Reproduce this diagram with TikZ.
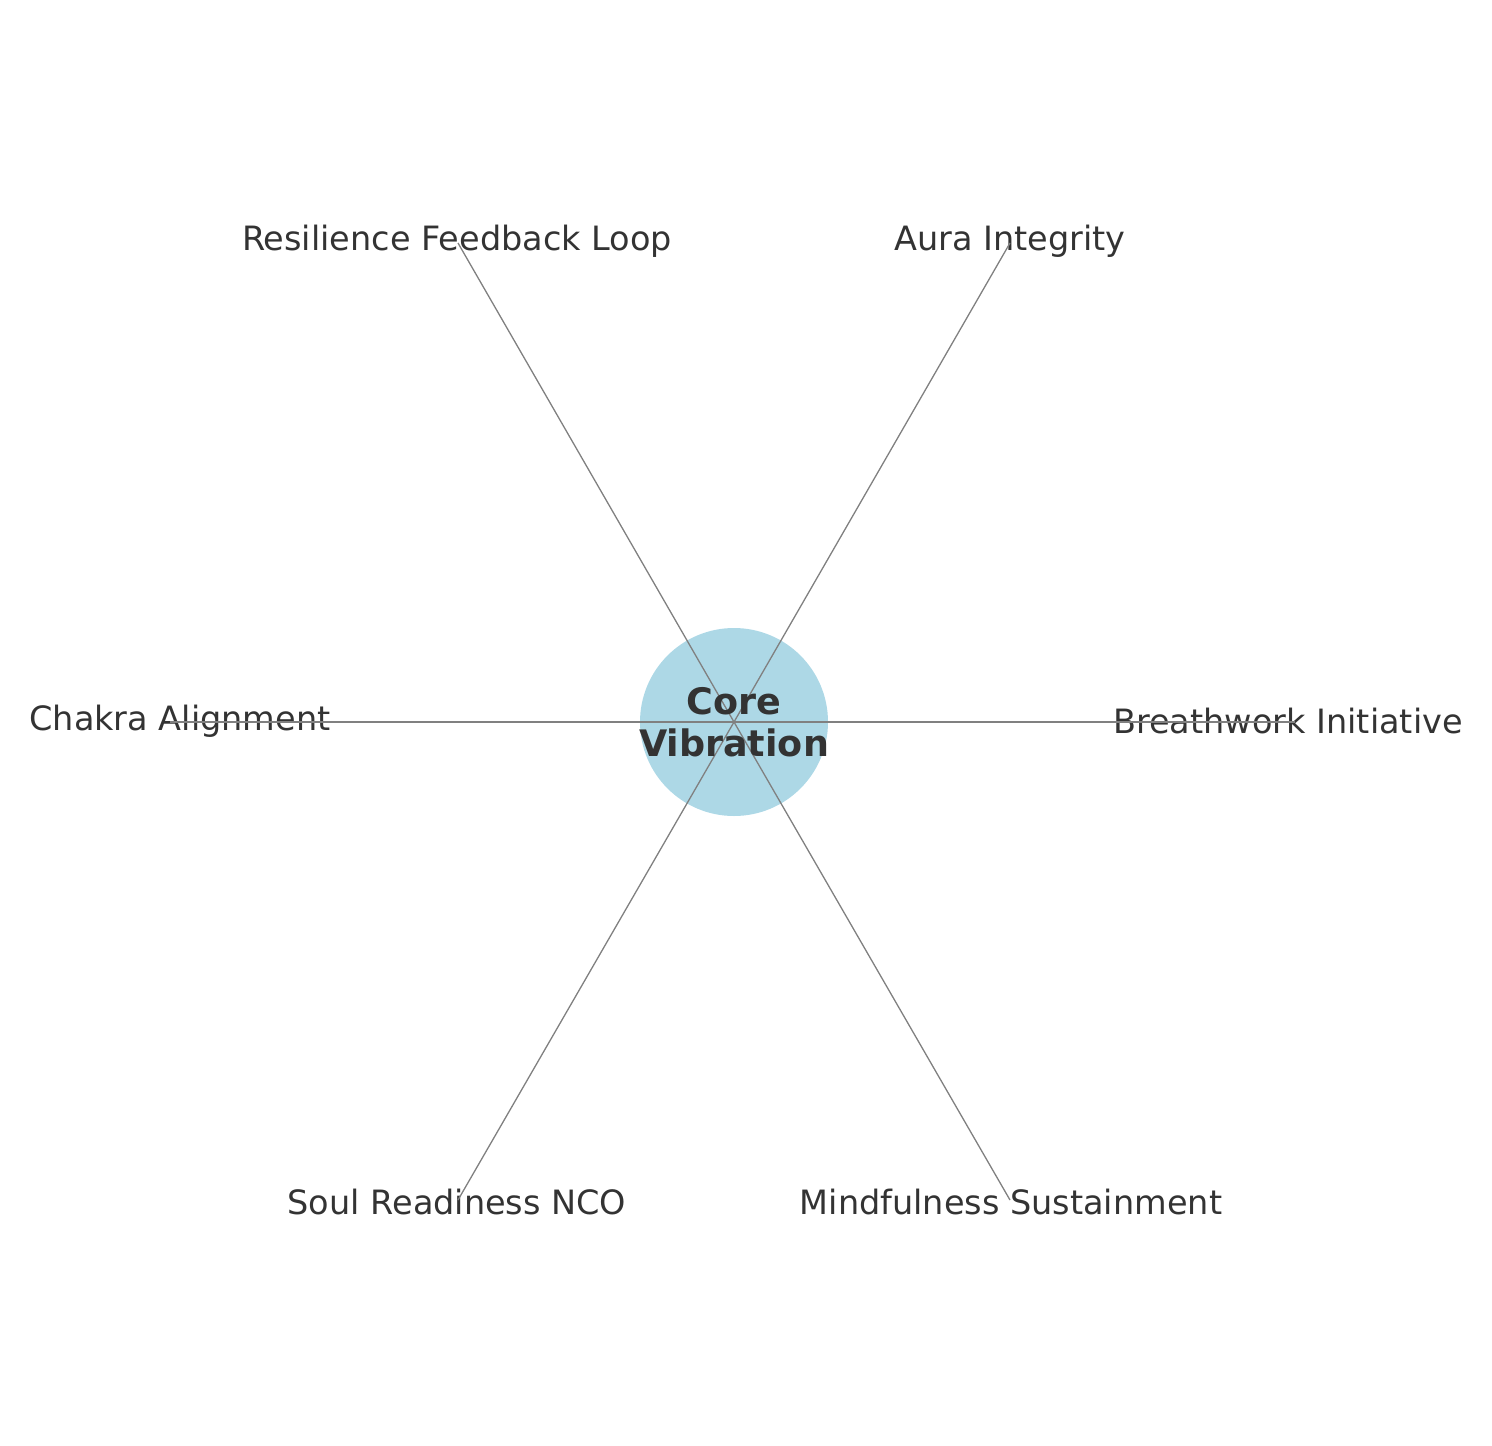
\documentclass[tikz,border=0pt]{standalone}
\usepackage{fontspec}
\setmainfont{DejaVu Sans}
\definecolor{txt}{HTML}{333333}
\definecolor{ln}{HTML}{808080}
\definecolor{core}{HTML}{ADD8E6}
\begin{document}
\begin{tikzpicture}[x=1pt,y=-1pt,
  lbl/.style={text=txt,font=\fontsize{33.5}{40}\selectfont,inner sep=0pt},
  conn/.style={draw=ln,line width=1.3pt}]
\useasboundingbox (0,0) rectangle (1492,1446);
\fill[core] (734,722) ellipse [x radius=94, y radius=94];
\coordinate (c) at (734,722);
\node[lbl] (res) at (457,241) {Resilience Feedback Loop};
\node[lbl] (aura) at (1010,241) {Aura Integrity};
\node[lbl] (chakra) at (180,721) {Chakra Alignment};
\node[lbl] (breath) at (1288,721) {Breathwork Initiative};
\node[lbl] (soul) at (457,1202) {Soul Readiness NCO};
\node[lbl] (mind) at (1011,1202) {Mindfulness Sustainment};
\coordinate (eres) at (458,243);
\coordinate (eaura) at (1010,243);
\coordinate (echakra) at (170,722);
\coordinate (ebreath) at (1295,722);
\coordinate (esoul) at (458,1200);
\coordinate (emind) at (1010,1200);
\foreach \e in {eres,eaura,echakra,ebreath,esoul,emind} \draw[conn] (c) -- (\e);
\node[text=txt,font=\bfseries\fontsize{36.5}{42}\selectfont,align=center,inner sep=0pt] (corelbl) at (734,722) {Core\\Vibration};
\end{tikzpicture}
\end{document}
